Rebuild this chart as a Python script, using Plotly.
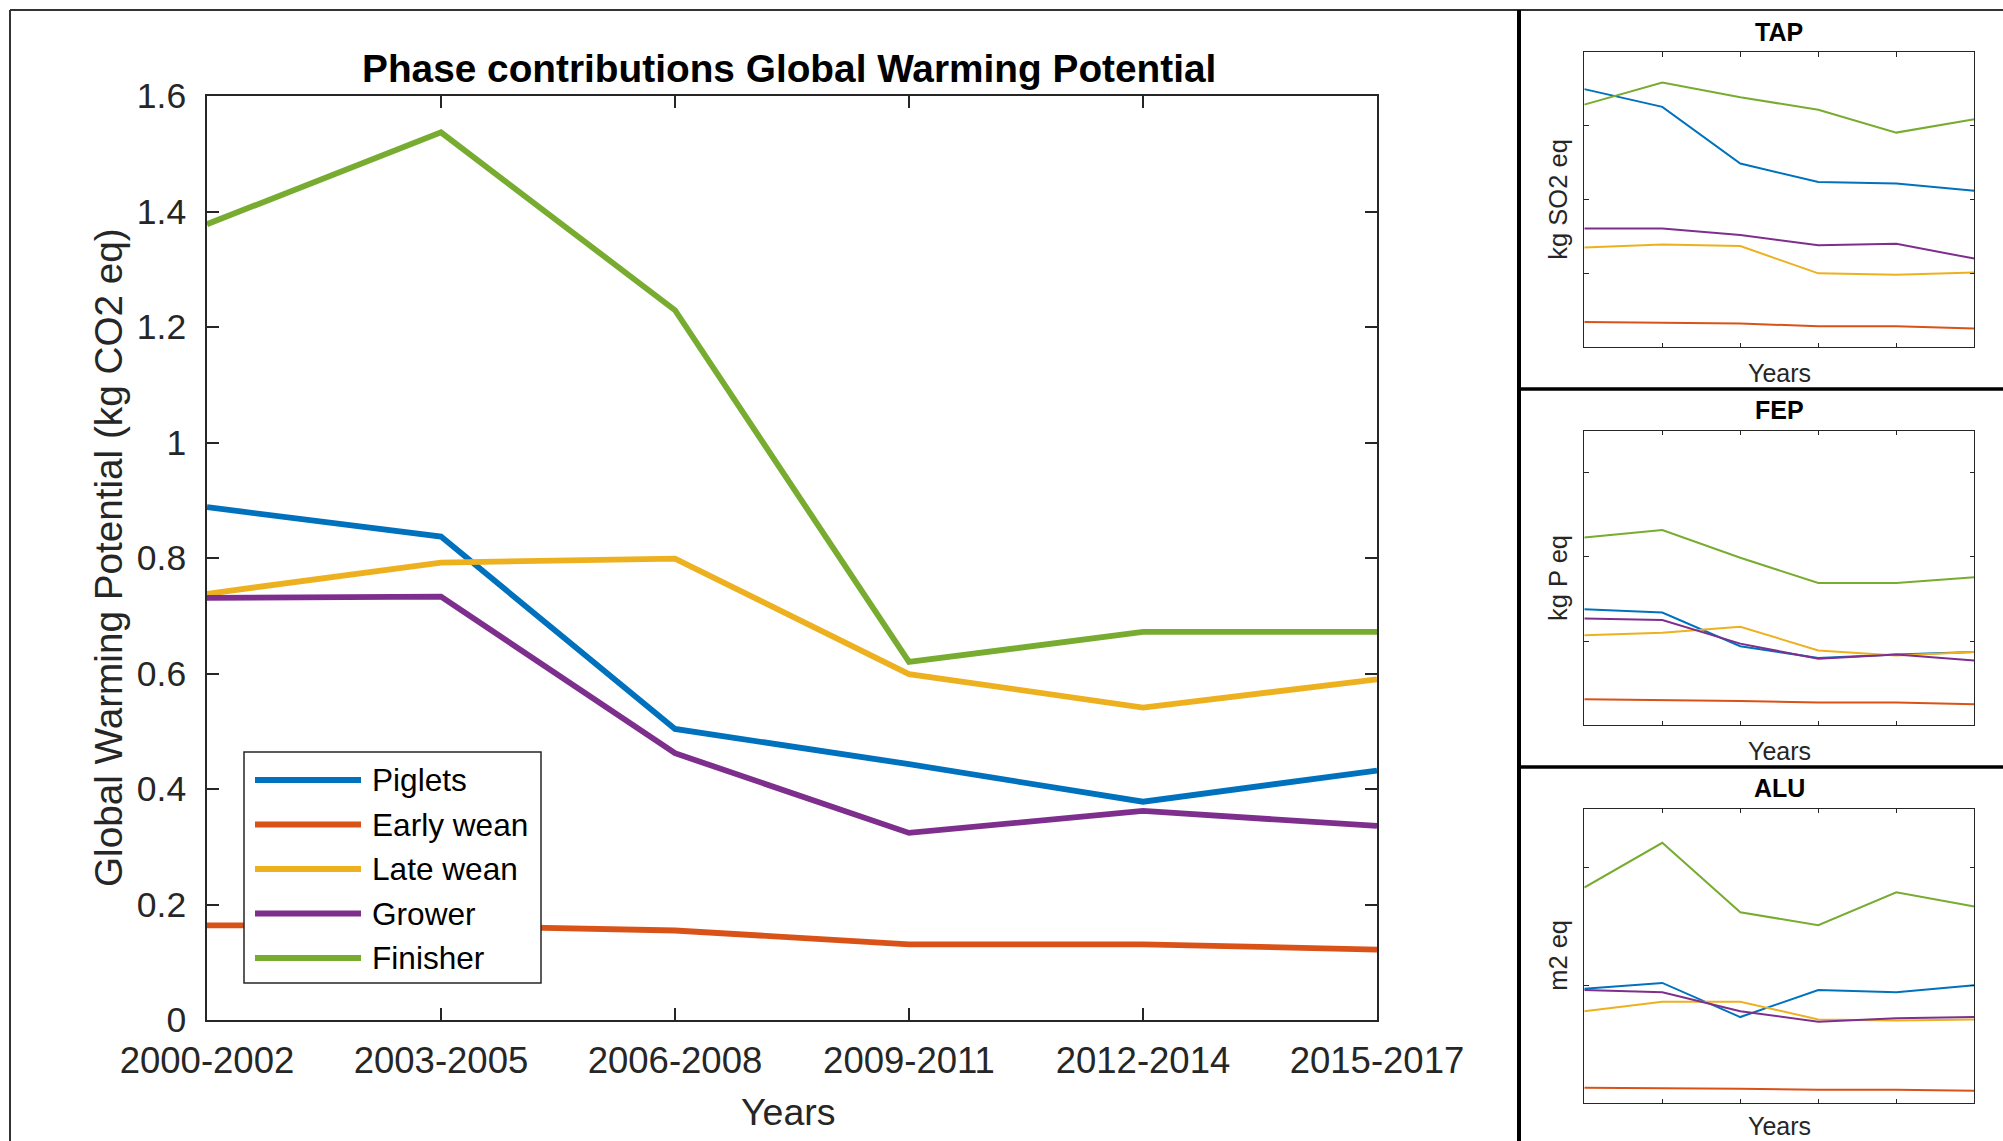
import plotly.graph_objects as go

# ---------------------------------------------------------------- data
periods = ["2000-2002", "2003-2005", "2006-2008", "2009-2011", "2012-2014", "2015-2017"]
phases = ["Piglets", "Early wean", "Late wean", "Grower", "Finisher"]
phase_colors = ["#0072BD", "#D95319", "#EDB120", "#7E2F8E", "#77AC30"]

# Global Warming Potential per phase (kg CO2 eq)
gwp_piglets = [0.888, 0.837, 0.504, 0.443, 0.378, 0.432]
gwp_early_wean = [0.164, 0.163, 0.155, 0.131, 0.131, 0.122]
gwp_late_wean = [0.738, 0.792, 0.799, 0.599, 0.541, 0.590]
gwp_grower = [0.731, 0.733, 0.462, 0.324, 0.362, 0.336]
gwp_finisher = [1.378, 1.537, 1.229, 0.620, 0.672, 0.672]

# Terrestrial acidification (kg SO2 eq, in tick-step units)
tap_piglets = [3.50, 3.26, 2.49, 2.24, 2.22, 2.12]
tap_early_wean = [0.34, 0.33, 0.32, 0.28, 0.28, 0.25]
tap_late_wean = [1.35, 1.39, 1.37, 1.00, 0.98, 1.01]
tap_grower = [1.61, 1.61, 1.52, 1.38, 1.40, 1.20]
tap_finisher = [3.29, 3.59, 3.39, 3.22, 2.91, 3.09]

# Freshwater eutrophication (kg P eq, in tick-step units)
fep_piglets = [1.38, 1.34, 0.94, 0.80, 0.84, 0.87]
fep_early_wean = [0.31, 0.30, 0.29, 0.27, 0.27, 0.25]
fep_late_wean = [1.07, 1.10, 1.17, 0.89, 0.83, 0.87]
fep_grower = [1.27, 1.25, 0.97, 0.79, 0.84, 0.77]
fep_finisher = [2.23, 2.32, 1.99, 1.69, 1.69, 1.76]

# Agricultural land use (m2 eq, in tick-step units)
alu_piglets = [0.97, 1.02, 0.73, 0.96, 0.94, 1.00]
alu_early_wean = [0.130, 0.127, 0.122, 0.113, 0.113, 0.105]
alu_late_wean = [0.78, 0.86, 0.86, 0.71, 0.70, 0.71]
alu_grower = [0.96, 0.94, 0.78, 0.69, 0.72, 0.73]
alu_finisher = [1.83, 2.21, 1.62, 1.51, 1.79, 1.67]

gwp_series = [gwp_piglets, gwp_early_wean, gwp_late_wean, gwp_grower, gwp_finisher]
side_panels = [
    ("TAP", "kg SO2 eq", [tap_piglets, tap_early_wean, tap_late_wean, tap_grower, tap_finisher], 4.0),
    ("FEP", "kg P eq", [fep_piglets, fep_early_wean, fep_late_wean, fep_grower, fep_finisher], 3.5),
    ("ALU", "m2 eq", [alu_piglets, alu_early_wean, alu_late_wean, alu_grower, alu_finisher], 2.5),
]

# ---------------------------------------------------------------- geometry helpers
W, H = 2003, 1141
FONT = "Liberation Sans, Arial, Helvetica, sans-serif"
AXIS_COLOR = "#262626"


def fx(px):
    return px / W


def fy(px):
    return 1 - px / H


fig = go.Figure()

# ---------------------------------------------------------------- main panel
for name, color, vals in zip(phases, phase_colors, gwp_series):
    fig.add_trace(go.Scatter(
        x=periods, y=vals, name=name, mode="lines",
        line=dict(color=color, width=5.8),
        xaxis="x", yaxis="y", showlegend=False,
    ))

common_axis = dict(
    showgrid=False, zeroline=False, showline=True, linecolor=AXIS_COLOR,
    ticks="inside", tickcolor=AXIS_COLOR, mirror="allticks", automargin=False,
)

layout = dict(
    width=W, height=H, autosize=False,
    margin=dict(l=0, r=0, t=0, b=0, pad=0, autoexpand=False),
    paper_bgcolor="white", plot_bgcolor="white",
    font=dict(family=FONT, color=AXIS_COLOR),
    showlegend=False,
    xaxis=dict(
        common_axis, domain=[fx(207), fx(1377)], anchor="y",
        type="category", categoryorder="array", categoryarray=periods,
        range=[0, 5], ticklen=12.5, tickwidth=1.5, linewidth=1.5,
        tickfont=dict(size=36.5, color=AXIS_COLOR), ticklabelstandoff=7,
    ),
    yaxis=dict(
        common_axis, domain=[fy(1020), fy(96)], anchor="x",
        range=[0, 1.6], dtick=0.2, tick0=0, ticklen=12.5, tickwidth=1.5, linewidth=1.5,
        tickfont=dict(size=35.5, color=AXIS_COLOR), ticklabelstandoff=12,
    ),
)

annotations = [
    dict(text="<b>Phase contributions Global Warming Potential</b>",
         x=fx(789), y=fy(68), xref="paper", yref="paper",
         xanchor="center", yanchor="middle", showarrow=False,
         font=dict(size=38.8, color="black", family=FONT)),
    dict(text="Years", x=fx(788), y=fy(1111.5), xref="paper", yref="paper",
         xanchor="center", yanchor="middle", showarrow=False,
         font=dict(size=37.5, color=AXIS_COLOR, family=FONT)),
    dict(text="Global Warming Potential (kg CO2 eq)", textangle=-90,
         x=fx(108), y=fy(558), xref="paper", yref="paper",
         xanchor="center", yanchor="middle", showarrow=False,
         font=dict(size=38.7, color=AXIS_COLOR, family=FONT)),
]

shapes = []

# legend drawn as a framed box with long line samples
legend_rows = [780, 824.5, 869, 913.5, 958]
shapes.append(dict(type="rect", xref="paper", yref="paper",
                   x0=fx(244), x1=fx(541), y0=fy(983), y1=fy(752),
                   line=dict(color=AXIS_COLOR, width=1.5), fillcolor="white", layer="above"))
for name, color, ry in zip(phases, phase_colors, legend_rows):
    shapes.append(dict(type="line", xref="paper", yref="paper",
                       x0=fx(255), x1=fx(361), y0=fy(ry), y1=fy(ry),
                       line=dict(color=color, width=5.8), layer="above"))
    annotations.append(dict(text=name, x=fx(370), y=fy(ry), xref="paper", yref="paper",
                            xanchor="left", yanchor="middle", showarrow=False,
                            font=dict(size=31.6, color="black", family=FONT)))

# ---------------------------------------------------------------- side panels
panel_boxes = [(52.3, 347.0), (430.7, 725.3), (808.7, 1103.0)]
side_left, side_right = 1584.3, 1974.3
side_mid = (side_left + side_right) / 2

for i, ((title, unit, series, ymax), (top, bottom)) in enumerate(zip(side_panels, panel_boxes), start=2):
    xa, ya = f"x{i}", f"y{i}"
    for name, color, vals in zip(phases, phase_colors, series):
        fig.add_trace(go.Scatter(
            x=periods, y=vals, name=name, mode="lines",
            line=dict(color=color, width=2),
            xaxis=xa, yaxis=ya, showlegend=False,
        ))
    layout[f"xaxis{i}"] = dict(
        common_axis, domain=[fx(side_left), fx(side_right)], anchor=ya,
        type="category", categoryorder="array", categoryarray=periods,
        range=[0, 5], ticklen=4.5, tickwidth=1, linewidth=1, showticklabels=False,
    )
    layout[f"yaxis{i}"] = dict(
        common_axis, domain=[fy(bottom), fy(top)], anchor=xa,
        range=[0, ymax], dtick=1, tick0=0, ticklen=4.5, tickwidth=1, linewidth=1,
        showticklabels=False,
    )
    annotations.append(dict(text=f"<b>{title}</b>", x=fx(side_mid), y=fy(top - 20.5),
                            xref="paper", yref="paper", xanchor="center", yanchor="middle",
                            showarrow=False, font=dict(size=25, color="black", family=FONT)))
    annotations.append(dict(text="Years", x=fx(side_mid), y=fy(min(bottom + 25.5, 1126)),
                            xref="paper", yref="paper", xanchor="center", yanchor="middle",
                            showarrow=False, font=dict(size=25, color=AXIS_COLOR, family=FONT)))
    annotations.append(dict(text=unit, textangle=-90, x=fx(1558), y=fy((top + bottom) / 2),
                            xref="paper", yref="paper", xanchor="center", yanchor="middle",
                            showarrow=False, font=dict(size=25.5, color=AXIS_COLOR, family=FONT)))

# ---------------------------------------------------------------- frame and panel dividers
shapes += [
    dict(type="line", xref="paper", yref="paper", x0=fx(10), x1=1, y0=fy(10), y1=fy(10),
         line=dict(color="#333333", width=2)),
    dict(type="line", xref="paper", yref="paper", x0=fx(10), x1=fx(10), y0=fy(10), y1=0,
         line=dict(color="#333333", width=2)),
    dict(type="line", xref="paper", yref="paper", x0=fx(1519), x1=fx(1519), y0=fy(10), y1=0,
         line=dict(color="black", width=4)),
    dict(type="line", xref="paper", yref="paper", x0=fx(1519), x1=1, y0=fy(389), y1=fy(389),
         line=dict(color="black", width=3.5)),
    dict(type="line", xref="paper", yref="paper", x0=fx(1519), x1=1, y0=fy(767), y1=fy(767),
         line=dict(color="black", width=3.5)),
]

layout["annotations"] = annotations
layout["shapes"] = shapes
fig.update_layout(layout)

fig.write_html("out.html")
